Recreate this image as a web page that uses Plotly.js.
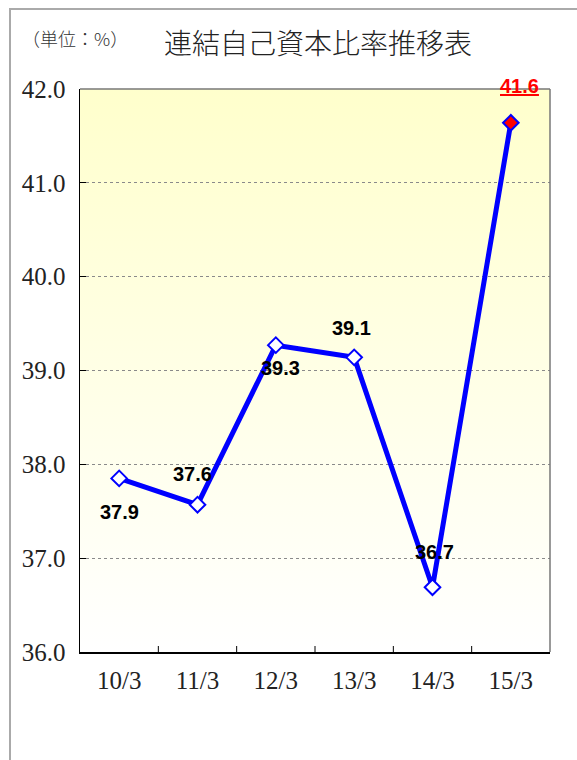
<!DOCTYPE html>
<html>
<head>
<meta charset="utf-8">
<script src="https://cdn.plot.ly/plotly-3.0.1.min.js"></script>
<style>
html,body{margin:0;padding:0;background:#fff;}
#chart{width:577px;height:760px;}
</style>
</head>
<body>
<div id="chart"></div>
<script>
// ---- data ----
var categories = ["10/3", "11/3", "12/3", "13/3", "14/3", "15/3"];
var ratioValues = [37.85, 37.57, 39.27, 39.14, 36.69, 41.64];
var yTickValues = [36, 37, 38, 39, 40, 41, 42];
var titleText = "連結自己資本比率推移表";
var unitText = "（単位：%）";

// ---- styles (label offsets in px, marker fills) ----
var labelDx = [0, -5, 5, -3, 2, 9];
var labelDy = [-34, 31, -23, 29, 35, 37];
var markerFills = ["#FFFFFF", "#FFFFFF", "#FFFFFF", "#FFFFFF", "#FFFFFF", "#FF0000"];

var W = 577, H = 760;
var m = {l: 80, r: 27, t: 89, b: 108};
var pw = W - m.l - m.r, ph = H - m.t - m.b;
function px2x(px){ return (px - m.l) / pw; }
function py2y(py){ return (H - m.b - py) / ph; }

var trace = {
  type: "scatter",
  mode: "lines+markers",
  x: categories,
  y: ratioValues,
  line: {color: "#0000FF", width: 5},
  marker: {symbol: "diamond", size: 12, color: markerFills, line: {color: "#0000FF", width: 2}},
  hoverinfo: "skip",
  cliponaxis: false
};

var annotations = ratioValues.map(function(v, i){
  var last = i === ratioValues.length - 1;
  return {
    x: categories[i], y: v, xref: "x", yref: "y",
    text: v.toFixed(1),
    showarrow: false,
    xshift: labelDx[i], yshift: labelDy[i],
    font: {family: "Liberation Sans, Arial, sans-serif", size: 20, weight: 700,
           color: last ? "#FF0000" : "#000000", lineposition: last ? "under" : "none"}
  };
});
annotations.push({
  xref: "paper", yref: "paper", x: px2x(318), y: py2y(42),
  xanchor: "center", yanchor: "middle", showarrow: false,
  text: titleText,
  font: {family: "Noto Sans CJK JP, sans-serif", size: 28, weight: 300, color: "#222"}
});
annotations.push({
  xref: "paper", yref: "paper", x: px2x(20), y: py2y(38),
  xanchor: "left", yanchor: "middle", showarrow: false,
  text: unitText,
  font: {family: "Noto Sans CJK JP, sans-serif", size: 18, weight: 300, color: "#333"}
});

var gradSvg = '<svg xmlns="http://www.w3.org/2000/svg" width="100" height="100" preserveAspectRatio="none">' +
  '<defs><linearGradient id="g" x1="0" y1="0" x2="0" y2="1">' +
  '<stop offset="0" stop-color="#FFFFCC"/><stop offset="1" stop-color="#FFFFFF"/>' +
  '</linearGradient></defs><rect width="100" height="100" fill="url(#g)"/></svg>';

var tickFont = {family: "Liberation Serif", size: 25, weight: 400, color: "#222"};

var layout = {
  width: W, height: H,
  margin: m,
  paper_bgcolor: "#FFFFFF",
  plot_bgcolor: "rgba(0,0,0,0)",
  showlegend: false,
  hovermode: false,
  xaxis: {
    type: "category",
    range: [-0.5, categories.length - 0.5],
    showline: true, linecolor: "#000", linewidth: 1.5,
    showgrid: false,
    ticks: "",
    tickfont: tickFont,
    ticklabelstandoff: 5,
    fixedrange: true
  },
  yaxis: {
    range: [36, 42],
    tickvals: yTickValues,
    ticktext: yTickValues.map(function(v){ return v.toFixed(1); }),
    showline: true, linecolor: "#000", linewidth: 1.5,
    ticks: "inside", ticklen: 6, tickcolor: "#000",
    showgrid: true, gridcolor: "#8a8a8a", griddash: "dot", gridwidth: 1,
    zeroline: false,
    tickfont: tickFont,
    ticklabelstandoff: 8,
    fixedrange: true
  },
  images: [{
    source: "data:image/svg+xml;charset=utf-8," + encodeURIComponent(gradSvg),
    xref: "paper", yref: "paper", x: 0, y: 1, sizex: 1, sizey: 1,
    xanchor: "left", yanchor: "top", sizing: "stretch", layer: "below"
  }],
  shapes: categories.slice(1).map(function(c, i){
    return {type: "line", xref: "x", yref: "paper", x0: i + 0.5, x1: i + 0.5,
            y0: 0, y1: 6 / ph, line: {color: "#000", width: 1}};
  }).concat([
    {type: "line", xref: "paper", yref: "paper", x0: 0, x1: 1, y0: 1, y1: 1, line: {color: "#777", width: 1.5}},
    {type: "line", xref: "paper", yref: "paper", x0: 1, x1: 1, y0: 0, y1: 1, line: {color: "#777", width: 1.5}},
    // outer frame
    {type: "line", xref: "paper", yref: "paper", x0: px2x(10), x1: px2x(10), y0: py2y(9), y1: py2y(800), line: {color: "#aaa", width: 2}},
    {type: "line", xref: "paper", yref: "paper", x0: px2x(9), x1: px2x(620), y0: py2y(9), y1: py2y(9), line: {color: "#aaa", width: 2}}
  ]),
  annotations: annotations
};

Plotly.newPlot("chart", [trace], layout, {displayModeBar: false, staticPlot: true});
</script>
</body>
</html>
